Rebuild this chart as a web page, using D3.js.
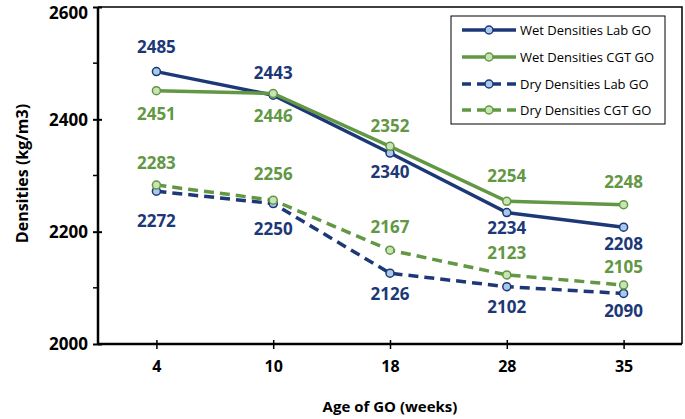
<!DOCTYPE html>
<html><head><meta charset="utf-8">
<script src="https://cdn.jsdelivr.net/npm/d3@7"></script>
<style>body{margin:0;background:#fff}svg{display:block}</style>
</head><body>
<script>
const categories = ["4","10","18","28","35"];
const wetLab = [2485,2443,2340,2234,2208];
const wetCGT = [2451,2446,2352,2254,2248];
const dryLab = [2272,2250,2126,2102,2090];
const dryCGT = [2283,2256,2167,2123,2105];
const yTicks = [2000,2200,2400,2600];
const yMinorTicks = [2100,2300,2500];
const seriesNames = ["Wet Densities Lab GO","Wet Densities CGT GO","Dry Densities Lab GO","Dry Densities CGT GO"];
// label vertical offsets in px (negative = above point)
const wetLabOff = [-25,-22,19,15,17];
const wetCGTOff = [23,23,-20,-25,-23];
const dryLabOff = [30,25,21,20,18];
const dryCGTOff = [-22,-26,-23,-22,-18];

const navy="#1c3877", green="#629743", navyFill="#a9c9ea", greenFill="#c8e3b4";
const series = [
  {name:seriesNames[0], values:wetLab, off:wetLabOff, color:navy, fill:navyFill, dash:null},
  {name:seriesNames[1], values:wetCGT, off:wetCGTOff, color:green, fill:greenFill, dash:null},
  {name:seriesNames[2], values:dryLab, off:dryLabOff, color:navy, fill:navyFill, dash:"10,6"},
  {name:seriesNames[3], values:dryCGT, off:dryCGTOff, color:green, fill:greenFill, dash:"10,6"}
];

const W=685,H=419, L=98, R=682, T=7, B=344;
const font="'Open Sans', Lato, sans-serif";
const svg=d3.select("body").append("svg").attr("width",W).attr("height",H);
const x=d3.scalePoint().domain(categories).range([L,R]).padding(0.5);
const y=d3.scaleLinear().domain([2000,2600]).range([B,T]);

svg.append("path").attr("d",`M${L},${T}H${R}V${B}`).attr("fill","none").attr("stroke","#000").attr("stroke-width",1.5);

const ya=svg.append("g").attr("transform",`translate(${L},0)`)
  .call(d3.axisLeft(y).tickValues(yTicks).tickSize(5).tickFormat(d3.format("d")));
ya.select(".domain").attr("stroke-width",2.5).attr("d",`M0,${T}V${B}`);
ya.selectAll(".tick line").attr("x1",-5).attr("x2",4).attr("stroke-width",2);
ya.selectAll(".tick text").attr("x",-10).style("font",`bold 17px ${font}`).attr("fill","#000")
  .attr("dy",d=>d===2600?"0.67em":"0.35em");
svg.append("g").selectAll("line").data(yMinorTicks).join("line")
  .attr("x1",L-5).attr("x2",L).attr("y1",d=>y(d)).attr("y2",d=>y(d)).attr("stroke","#000").attr("stroke-width",1.5);

const xa=svg.append("g").attr("transform",`translate(0,${B})`)
  .call(d3.axisBottom(x).tickSize(5));
xa.select(".domain").attr("stroke-width",2.5).attr("d",`M${L},0H${R}`);
xa.selectAll(".tick line").attr("y1",-4).attr("y2",5).attr("stroke-width",1.5);
xa.selectAll(".tick text").attr("y",22).attr("dy","0.35em").style("font",`bold 16px ${font}`).attr("fill","#000");

svg.append("text").attr("x",390).attr("y",412).attr("text-anchor","middle")
  .style("font",`bold 15px ${font}`).text("Age of GO (weeks)");
svg.append("text").attr("transform",`translate(22,${(T+B)/2-2}) rotate(-90)`).attr("text-anchor","middle")
  .attr("dy","0.35em").style("font",`bold 16px ${font}`).text("Densities (kg/m3)");

const line=d3.line().x((d,i)=>x(categories[i])).y(d=>y(d));
[series[2],series[3],series[0],series[1]].forEach(s=>{
  svg.append("path").attr("d",line(s.values)).attr("fill","none").attr("stroke",s.color)
    .attr("stroke-width",3.5).attr("stroke-dasharray",s.dash);
  svg.append("g").selectAll("circle").data(s.values).join("circle")
    .attr("cx",(d,i)=>x(categories[i])).attr("cy",d=>y(d)).attr("r",4)
    .attr("fill",s.fill).attr("stroke",s.color).attr("stroke-width",1.5);
});
series.forEach(s=>{
  svg.append("g").selectAll("text").data(s.values).join("text")
    .attr("x",(d,i)=>x(categories[i])).attr("y",(d,i)=>y(d)+s.off[i])
    .attr("dy","0.35em").attr("text-anchor","middle")
    .style("font",`bold 17px ${font}`).attr("fill",s.color).text(d=>d);
});

const lg=svg.append("g");
lg.append("rect").attr("x",451).attr("y",16).attr("width",214).attr("height",108)
  .attr("fill","#fff").attr("stroke","#000").attr("stroke-width",1);
const rowsY=[30,57,84,110];
series.forEach((s,i)=>{
  const yy=rowsY[i];
  lg.append("line").attr("x1",462).attr("x2",516).attr("y1",yy).attr("y2",yy)
    .attr("stroke",s.color).attr("stroke-width",3.5).attr("stroke-dasharray",s.dash?"9,6":null);
  lg.append("circle").attr("cx",489).attr("cy",yy).attr("r",4).attr("fill",s.fill).attr("stroke",s.color).attr("stroke-width",1.5);
  lg.append("text").attr("x",520).attr("y",yy).attr("dy","0.35em")
    .style("font",`13px ${font}`).attr("fill","#000").text(s.name);
});
</script>
</body></html>
